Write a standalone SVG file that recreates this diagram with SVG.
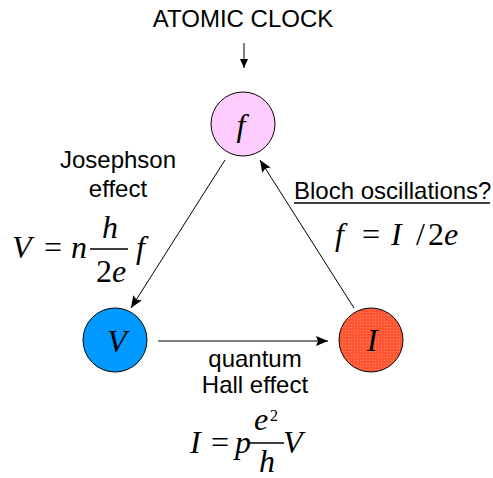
<svg xmlns="http://www.w3.org/2000/svg" width="493" height="478" viewBox="0 0 493 478">
<defs>
<style>
.lbl{font-family:"Liberation Sans",Arial,sans-serif;font-size:24px;fill:#000}
.m{font-family:"Liberation Serif","Times New Roman",serif;font-style:italic;font-size:32px;fill:#000}
.r{font-family:"Liberation Serif","Times New Roman",serif;font-style:normal;font-size:32px;fill:#000}
.sup{font-family:"Liberation Serif","Times New Roman",serif;font-size:16px;fill:#000}
.node{stroke:#000;stroke-width:1}
.conn{stroke:#000;stroke-width:1;fill:none}
.bar{stroke:#000;stroke-width:1.5}
</style>
<marker id="ah" markerWidth="12" markerHeight="10" refX="12" refY="5" orient="auto" markerUnits="userSpaceOnUse">
<path d="M0,0 L12,5 L0,10 L2,5 Z" fill="#000"/>
</marker>
<marker id="ahs" markerWidth="9" markerHeight="8" refX="9" refY="4" orient="auto" markerUnits="userSpaceOnUse">
<path d="M0,0 L9,4 L0,8 Z" fill="#000"/>
</marker>
<pattern id="grid" width="3" height="3" patternUnits="userSpaceOnUse">
<rect width="3" height="3" fill="#FF5533"/>
<rect width="1" height="1" fill="#FF8866"/>
</pattern>
</defs>
<rect width="493" height="478" fill="#fff"/>
<text class="lbl" x="243" y="27" text-anchor="middle">ATOMIC CLOCK</text>
<g id="connectors">
<line class="conn" x1="244" y1="43" x2="244" y2="68" marker-end="url(#ahs)"/>
<line class="conn" x1="225" y1="160" x2="131" y2="308" marker-end="url(#ah)"/>
<line class="conn" x1="354" y1="308" x2="260" y2="160" marker-end="url(#ah)"/>
<line class="conn" x1="158" y1="341" x2="328" y2="341" marker-end="url(#ah)"/>
</g>
<g id="node-f">
<circle class="node" cx="243" cy="124" r="32" fill="#FFCCFF"/>
<text class="m" x="241" y="136" text-anchor="middle">f</text>
</g>
<g id="node-V">
<circle class="node" cx="115" cy="340" r="32" fill="#0099FF"/>
<text class="m" x="117" y="352" text-anchor="middle">V</text>
</g>
<g id="node-I">
<circle class="node" cx="371" cy="340" r="32" fill="url(#grid)"/>
<text class="m" x="372" y="351" text-anchor="middle">I</text>
</g>
<g id="josephson">
<text class="lbl" x="118" y="168" text-anchor="middle">Josephson</text>
<text class="lbl" x="118" y="197" text-anchor="middle">effect</text>
<text class="m" x="12" y="258">V</text>
<text class="r" x="44" y="258">=</text>
<text class="m" x="71" y="258">n</text>
<line class="bar" x1="90" y1="249" x2="128" y2="249"/>
<text class="m" x="110" y="238" text-anchor="middle">h</text>
<text class="r" x="96" y="282">2</text>
<text class="m" x="112" y="282">e</text>
<text class="m" x="136" y="258">f</text>
</g>
<g id="bloch">
<text class="lbl" x="294" y="199">Bloch oscillations?</text>
<line x1="294" y1="203" x2="490" y2="203" stroke="#000" stroke-width="1.6"/>
<text class="m" x="335" y="245">f</text>
<text class="r" x="362" y="245">=</text>
<text class="m" x="391" y="245">I</text>
<text class="r" x="416" y="245">/</text>
<text class="r" x="428" y="245">2</text>
<text class="m" x="444" y="245">e</text>
</g>
<g id="hall">
<text class="lbl" x="255" y="367" text-anchor="middle">quantum</text>
<text class="lbl" x="255" y="393" text-anchor="middle">Hall effect</text>
<text class="m" x="190" y="453">I</text>
<text class="r" x="211" y="453">=</text>
<text class="m" x="235" y="453">p</text>
<line class="bar" x1="250" y1="443" x2="284" y2="443"/>
<text class="m" x="254" y="430">e</text>
<text class="sup" x="270" y="421">2</text>
<text class="m" x="267" y="472" text-anchor="middle">h</text>
<text class="m" x="283" y="453">V</text>
</g>
</svg>
